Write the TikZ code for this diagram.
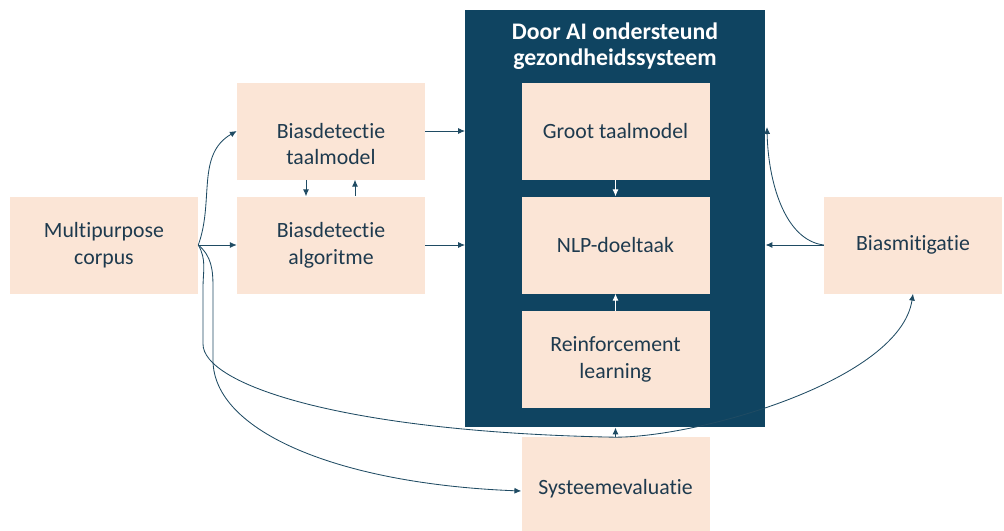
\documentclass[tikz,border=0pt]{standalone}
\usepackage{fontspec}
\setmainfont{Carlito}[Ligatures=NoCommon]
\usepackage{tikz}
\usetikzlibrary{calc, positioning, arrows.meta}

\definecolor{navy}{HTML}{0F4461}
\definecolor{peach}{HTML}{FBE5D6}
\definecolor{inktext}{HTML}{1E3A4E}
\definecolor{linkcol}{HTML}{1F4B63}

\begin{document}
\begin{tikzpicture}[
        font=\fontsize{15.5}{19}\selectfont,
        block/.style={fill=peach, text=inktext, align=center, minimum width=4.7cm, minimum height=2.425cm, inner sep=2pt},
        link/.style={-{Latex[length=1.7mm, width=1.5mm]}, draw=linkcol, line width=0.6pt},
        inlink/.style={-{Latex[length=1.7mm, width=1.5mm]}, draw=white, line width=0.6pt}
    ]
    \useasboundingbox (0,0) rectangle (25.1,-13.275);

    % ================= AI system =================
    \node[fill=navy, minimum width=7.5cm, minimum height=10.425cm, anchor=north west, inner sep=0pt] (ai) at (11.625,-0.25) {};
    \node[text=white, font=\fontsize{16.9}{18.2}\selectfont\bfseries, align=center] (title) at (15.375,-1.15) {Door AI ondersteund\\gezondheidssysteem};

    \node[block] (groot) at (15.3875,-3.275) {Groot taalmodel};
    \node[block] (nlp) at (15.3875,-6.125) {NLP-doeltaak};
    \node[block] (rl) at (15.3875,-8.9875) {Reinforcement\\learning};

    \draw[inlink] (groot.south) -- (nlp.north);
    \draw[inlink] (rl.north) -- (nlp.south);

    % ================= Bias detection =================
    \node[block] (corpus) at (2.6,-6.125) {Multipurpose\\corpus};
    \node[block] (taal) at (8.275,-3.275) {};
    \node[text=inktext, align=center] (taaltext) at ([yshift=-0.325cm]taal.center) {Biasdetectie\\taalmodel};
    \node[block] (alg) at (8.275,-6.125) {Biasdetectie\\algoritme};

    \draw[link] ([xshift=-0.625cm]taal.south) -- ([xshift=-0.625cm]taal.south |- alg.north);
    \draw[link] ([xshift=0.6cm]alg.north) -- ([xshift=0.6cm]alg.north |- taal.south);

    \draw[link] (taal.east) -- (taal.east -| ai.west);
    \draw[link] (alg.east) -- (alg.east -| ai.west);

    \draw[link] (corpus.east) to[out=70, in=210] (taal.west);
    \draw[link] (corpus.east) -- (alg.west);

    % ================= Mitigation and evaluation =================
    \node[block, minimum width=4.45cm] (mit) at (22.825,-6.125) {Biasmitigatie};
    \node[block, minimum height=2.6cm] (sys) at (15.3875,-12.225) {Systeemevaluatie};

    \coordinate (mitin) at (19.175,-3.175);
    \draw[link] (mit.west) -- (mit.west -| ai.east);
    \draw[link] (mit.west) .. controls (19.6,-6.0) and (19.2,-4.5) .. (mitin);

    \draw[link] (sys.north) -- (sys.north |- ai.south);

    % long curves from the corpus
    \draw[link] (corpus.east) to[out=-60, in=90] (5.075,-7.2) -- (5.075,-8.6)
        .. controls (5.075,-9.6) and (8.5,-10.8) .. (15.375,-10.93)
        .. controls (17.5,-10.93) and (22.5,-9.5) .. (mit.south);
    \draw[link] (corpus.east) to[out=-40, in=90] (5.325,-7.2) -- (5.325,-9.0)
        .. controls (5.325,-10.8) and (8.5,-12.1) .. ([yshift=-0.05cm]sys.west);

\end{tikzpicture}
\end{document}
